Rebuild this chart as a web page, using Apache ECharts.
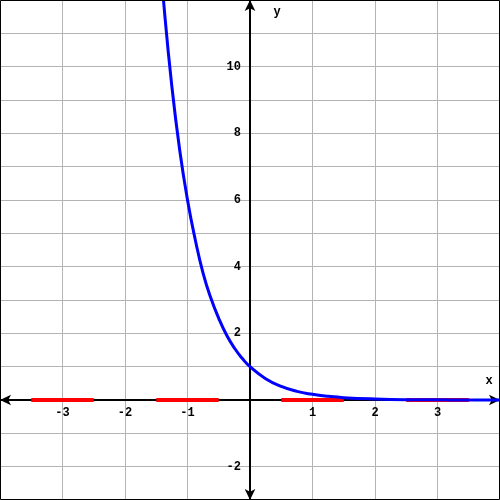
<!DOCTYPE html>
<html>
<head>
<meta charset="utf-8">
<script src="https://cdn.jsdelivr.net/npm/echarts@6/dist/echarts.min.js"></script>
<style>html,body{margin:0;padding:0;background:#fff}#c{width:500px;height:500px}</style>
</head>
<body>
<div id="c"></div>
<script>
// Curve points (x, y)
var curveX = [-1.5, -1.375, -1.25, -1.125, -1.0, -0.875, -0.75, -0.625, -0.5, -0.375, -0.25, -0.125, 0, 0.25, 0.5, 0.75, 1.0, 1.25, 1.5, 2.0, 2.5, 3.0, 3.5, 4.0];
var curveY = [14.7, 11.8, 9.4, 7.5, 6.0, 4.8, 3.8, 3.05, 2.45, 1.95, 1.56, 1.25, 1.0, 0.64, 0.41, 0.26, 0.17, 0.11, 0.07, 0.03, 0.01, 0.005, 0.002, 0.001];
// Red segments on the x-axis: [start, end]
var segStarts = [-3.5, -1.5, 0.5, 2.5];
var segEnds = [-2.5, -0.5, 1.5, 3.5];
var xTickLabels = ['-3', '-2', '-1', '1', '2', '3'];
var yTickLabels = ['-2', '2', '4', '6', '8', '10'];

var W = 500, H = 500;
var xMin = -4, xMax = 4, yMin = -3, yMax = 12;

var chart = echarts.init(document.getElementById('c'));
var labelFont = { fontFamily: 'Liberation Mono', fontWeight: 'bold', fontSize: 12, color: '#000' };

var series = [];
for (var i = 0; i < segStarts.length; i++) {
  series.push({
    type: 'line', data: [[segStarts[i], 0], [segEnds[i], 0]],
    showSymbol: false, symbol: 'none', silent: true, z: 3,
    lineStyle: { color: '#ff0000', width: 4, cap: 'butt' }
  });
}
series.push({
  type: 'line', smooth: true, symbol: 'none', z: 4, clip: true,
  data: curveX.map(function (x, k) { return [x, curveY[k]]; }),
  lineStyle: { color: '#0000ff', width: 3 }
});

// place axes at zero of the other axis (labels move with them)
var xOffset = -H * (0 - yMin) / (yMax - yMin);
var yOffset = -W * (0 - xMin) / (xMax - xMin);

chart.setOption({
  animation: false,
  backgroundColor: '#fff',
  grid: { left: 0, right: 0, top: 0, bottom: 0, containLabel: false, outerBoundsMode: 'none' },
  xAxis: {
    type: 'value', min: xMin, max: xMax, interval: 1, position: 'bottom', offset: xOffset,
    axisLine: { onZero: false, lineStyle: { color: '#000', width: 2 }, symbol: ['arrow', 'arrow'], symbolSize: [8, 11] },
    axisTick: { show: false },
    splitLine: { show: true, lineStyle: { color: '#b4b4b4', width: 1 } },
    axisLabel: Object.assign({ margin: 7, showMinLabel: false, showMaxLabel: false, hideOverlap: false,
      formatter: function (v) { var s = String(v); return xTickLabels.indexOf(s) >= 0 ? s : ''; } }, labelFont)
  },
  yAxis: {
    type: 'value', min: yMin, max: yMax, interval: 1, position: 'left', offset: yOffset,
    axisLine: { onZero: false, lineStyle: { color: '#000', width: 2 }, symbol: ['arrow', 'arrow'], symbolSize: [8, 11] },
    axisTick: { show: false },
    splitLine: { show: true, lineStyle: { color: '#b4b4b4', width: 1 } },
    axisLabel: Object.assign({ margin: 9, showMinLabel: false, showMaxLabel: false, hideOverlap: false,
      formatter: function (v) { var s = String(v); return yTickLabels.indexOf(s) >= 0 ? s : ''; } }, labelFont)
  },
  graphic: [
    { type: 'rect', shape: { x: 0.5, y: 0.5, width: 499, height: 499 }, style: { fill: null, stroke: '#000', lineWidth: 1 }, z: 10 },
    { type: 'text', x: 489, y: 381, style: { text: 'x', font: 'bold 12px "Liberation Mono"', fill: '#000', textAlign: 'center', textVerticalAlign: 'middle' }, z: 10 },
    { type: 'text', x: 277, y: 12, style: { text: 'y', font: 'bold 12px "Liberation Mono"', fill: '#000', textAlign: 'center', textVerticalAlign: 'middle' }, z: 10 }
  ],
  series: series
});
</script>
</body>
</html>
